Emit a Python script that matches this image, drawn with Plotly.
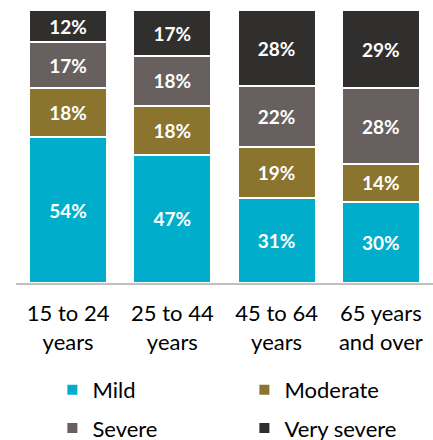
import plotly.graph_objects as go

age_groups = ["15 to 24<br>years", "25 to 44<br>years", "45 to 64<br>years", "65 years<br>and over"]
mild = [54, 47, 31, 30]
moderate = [18, 18, 19, 14]
severe = [17, 18, 22, 28]
very_severe = [12, 17, 28, 29]

# name, values, colour, legend row
series = [
    ("Mild", mild, "#00AECB", "legend"),
    ("Moderate", moderate, "#8A742E", "legend"),
    ("Severe", severe, "#67605E", "legend2"),
    ("Very severe", very_severe, "#312F2E", "legend2"),
]

fig = go.Figure()
for name, vals, color, leg in series:
    fig.add_trace(go.Bar(
        x=age_groups,
        y=vals,
        name=name,
        legend=leg,
        marker=dict(color=color, line=dict(color="white", width=2)),
        text=[f"{v}%" for v in vals],
        textposition="inside",
        insidetextanchor="middle",
        textangle=0,
        constraintext="none",
        textfont=dict(family="Lato", size=19, color="white", weight="bold"),
    ))

legend_style = dict(
    orientation="h",
    xref="container", yref="container",
    x=0.121, xanchor="left", yanchor="middle",
    entrywidth=147,
    traceorder="normal",
    font=dict(size=22),
)

fig.update_layout(
    barmode="stack",
    barnorm="percent",
    bargap=0.25,
    width=433,
    height=440,
    margin=dict(l=16, r=0, t=10, b=157, autoexpand=False),
    plot_bgcolor="white",
    paper_bgcolor="white",
    font=dict(family="Lato", size=22, color="black"),
    legend=dict(legend_style, y=0.114),
    legend2=dict(legend_style, y=0.027),
)
fig.update_xaxes(
    showline=True, linecolor="#BFBFBF", linewidth=2,
    ticks="", ticklabelstandoff=10, automargin=False,
    tickfont=dict(size=22),
)
fig.update_yaxes(visible=False, range=[0, 100], automargin=False)

fig.write_html(
    "out.html",
    config={"displayModeBar": False},
    post_script="document.body.style.margin='0';",
)
